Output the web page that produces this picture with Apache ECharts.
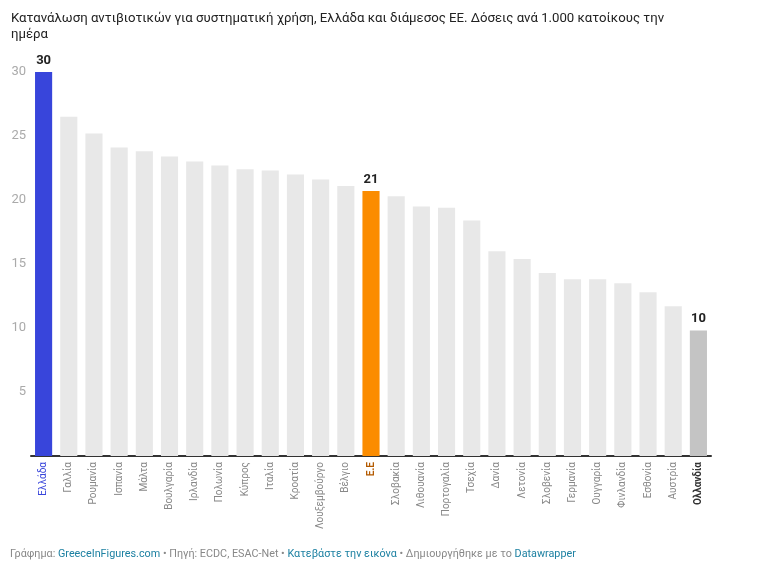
<!DOCTYPE html>
<html lang="el">
  <head>
    <meta charset="UTF-8" />
    <title>Κατανάλωση αντιβιοτικών</title>
    <script src="https://cdn.jsdelivr.net/npm/echarts@6.0.0/dist/echarts.min.js"></script>
    <style>
      html,
      body {
        margin: 0;
        background: #fff;
      }
      #chart {
        width: 768px;
        height: 571px;
      }
    </style>
  </head>
  <body>
    <div id="chart"></div>
    <script>
      const countries = [
        "Ελλάδα", "Γαλλία", "Ρουμανία", "Ισπανία", "Μάλτα", "Βουλγαρία",
        "Ιρλανδία", "Πολωνία", "Κύπρος", "Ιταλία", "Κροατία", "Λουξεμβούργο",
        "Βέλγιο", "Ε.Ε", "Σλοβακία", "Λιθουανία", "Πορτογαλία", "Τσεχία",
        "Δανία", "Λετονία", "Σλοβενία", "Γερμανία", "Ουγγαρία", "Φινλανδία",
        "Εσθονία", "Αυστρία", "Ολλανδία",
      ];
      const values = [
        30.0, 26.5, 25.2, 24.1, 23.8, 23.4,
        23.0, 22.7, 22.4, 22.3, 22.0, 21.6,
        21.1, 20.7, 20.3, 19.5, 19.4, 18.4,
        16.0, 15.4, 14.3, 13.8, 13.8, 13.5,
        12.8, 11.7, 9.8,
      ];
      const labelled = ["Ελλάδα", "Ε.Ε", "Ολλανδία"];

      const title =
        "Κατανάλωση αντιβιοτικών για συστηματική χρήση, Ελλάδα και διάμεσος ΕΕ. Δόσεις ανά 1.000 κατοίκους την\nημέρα";

      // highlight styles
      const barColor = { "Ελλάδα": "#3845db", "Ε.Ε": "#fb8c00", "Ολλανδία": "#c4c4c4" };
      const richKey = { "Ελλάδα": "gr", "Ε.Ε": "eu", "Ολλανδία": "nl" };

      const chart = echarts.init(document.getElementById("chart"));
      chart.setOption({
        animation: false,
        textStyle: { fontFamily: "Roboto, sans-serif" },
        title: [
          {
            text: title,
            left: 6,
            top: 6,
            textStyle: {
              fontSize: 13.2,
              fontWeight: "normal",
              color: "#222",
              lineHeight: 16,
            },
          },
          {
            text:
              "{g|Γράφημα: }{l|GreeceInFigures.com}{g| • Πηγή: ECDC, ESAC-Net • }{l|Κατεβάστε την εικόνα}{g| • Δημιουργήθηκε με το }{l|Datawrapper}",
            left: 5,
            top: 544,
            textStyle: {
              fontWeight: "normal",
              rich: {
                g: { fontSize: 10.8, color: "#888", fontWeight: "normal" },
                l: { fontSize: 10.8, color: "#1d81a2", fontWeight: "normal" },
              },
            },
          },
        ],
        grid: { left: 31, right: 57, top: 72, bottom: 115 },
        xAxis: {
          type: "category",
          data: countries,
          axisLine: { lineStyle: { color: "#333", width: 2 } },
          axisTick: { show: false },
          axisLabel: {
            rotate: 90,
            interval: 0,
            margin: 6,
            fontSize: 10,
            formatter: (v) => (richKey[v] ? "{" + richKey[v] + "|" + v + "}" : v),
            color: "#888",
            rich: {
              gr: { color: "#3845db", fontSize: 10 },
              eu: { color: "#b35a00", fontSize: 10, fontWeight: "bold" },
              nl: { color: "#333333", fontSize: 10, fontWeight: "bold" },
            },
          },
        },
        yAxis: {
          type: "value",
          min: 0,
          max: 30,
          interval: 5,
          splitLine: { show: false },
          axisLine: { show: false },
          axisTick: { show: false },
          axisLabel: {
            showMinLabel: false,
            color: "#aaa",
            fontSize: 13,
            margin: 5,
          },
        },
        series: [
          {
            type: "bar",
            barCategoryGap: "32%",
            data: countries.map((c, i) => ({
              value: values[i],
              itemStyle: { color: barColor[c] || "#e8e8e8" },
              label: {
                show: labelled.includes(c),
                position: "top",
                distance: 5,
                fontSize: 13,
                fontWeight: "bold",
                color: "#222",
                formatter: (p) => Math.round(p.value),
              },
            })),
          },
        ],
      });
    </script>
  </body>
</html>
